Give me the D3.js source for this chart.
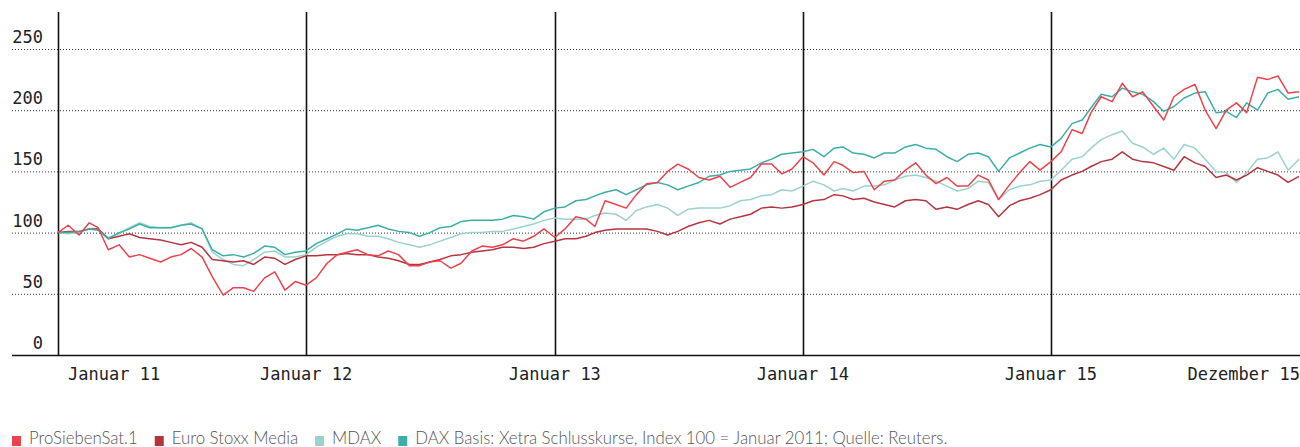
<!DOCTYPE html>
<html lang="de">
<head>
    <meta charset="UTF-8">
    <script src="https://d3js.org/d3.v7.min.js"></script>
    <style>
        body { margin: 0; background: #fff; }
        .tick-label { font-family: "DejaVu Sans Mono", monospace; font-size: 17px; fill: #222; }
        .legend-text { font-family: Lato, "Open Sans", sans-serif; font-weight: 300; font-size: 16.8px; fill: #555; }
        .grid { stroke: #333; stroke-width: 1; stroke-dasharray: 1,2; }
        .series { fill: none; stroke-width: 1.5; stroke-linejoin: round; }
    </style>
</head>
<body>
<div id="chart"></div>
<script>
    // half-monthly readings, Jan 2011 .. Dec 2015 (Index 100 = Januar 2011)
    const proSieben = [
        100,106,98,108,104,86,90,80,82,79,76,80,82,87,80,64,49,55,55,52,63,68,53,60,57,
        63,75,82,84,86,82,81,85,82,73,73,76,77,71,75,85,89,88,90,95,93,97,103,96,
        103,113,111,105,126,123,120,131,140,141,150,156,152,145,143,146,137,141,145,156,156,148,152,162,
        157,147,158,155,149,150,135,142,143,151,157,147,140,145,138,138,147,143,127,139,149,158,151,158,
        166,184,181,198,211,207,222,211,215,203,192,211,217,221,200,185,200,206,198,227,225,228,214,215
    ];
    const euroStoxx = [
        100,101,101,103,103,95,97,99,96,95,94,92,90,92,88,78,77,76,77,74,80,79,74,78,81,
        81,82,82,83,82,82,80,79,77,74,74,76,78,81,82,84,85,86,88,88,87,88,91,93,
        95,95,97,100,102,103,103,103,103,101,98,101,105,108,110,107,111,113,115,120,121,120,121,123,
        126,127,131,130,127,128,125,123,121,126,127,126,119,121,119,123,126,123,113,122,126,128,131,135,
        143,147,150,154,158,160,166,160,158,157,154,151,162,157,154,145,147,143,147,153,150,147,141,146
    ];
    const mdax = [
        100,99,100,103,103,96,99,104,108,105,104,104,106,108,103,84,78,74,73,78,84,85,80,80,82,
        88,93,97,99,99,97,97,95,92,90,88,90,93,96,99,100,100,101,101,103,105,107,110,112,
        111,111,111,114,116,115,110,118,121,123,120,114,119,120,120,120,122,126,127,130,131,135,134,138,
        142,139,134,136,134,138,138,139,143,146,147,145,142,138,134,136,142,141,127,135,138,139,142,143,
        151,160,162,169,176,180,183,173,170,164,169,160,172,169,160,150,149,141,149,160,161,166,151,160
    ];
    const dax = [
        100,100,101,103,102,95,100,103,107,104,104,104,106,107,103,86,81,82,80,83,89,88,82,84,85,
        91,95,99,103,102,104,106,103,101,100,97,100,104,105,109,110,110,110,111,114,113,111,117,120,
        121,126,127,130,133,135,131,135,139,141,139,135,138,141,146,147,150,151,152,157,160,164,165,166,
        168,162,169,170,165,164,161,165,165,170,172,169,168,162,158,164,165,162,150,161,165,169,172,170,
        177,189,192,202,213,211,218,215,213,207,199,203,210,214,215,198,199,194,206,200,214,217,209,211
    ];

    const dates = d3.range(proSieben.length).map(k => new Date(2011, Math.floor(k / 2), k % 2 ? 16 : 1));

    const yTicks = [0, 50, 100, 150, 200, 250];
    const yearLines = [2011, 2012, 2013, 2014, 2015];
    const xLabels = ["Januar 11", "Januar 12", "Januar 13", "Januar 14", "Januar 15", "Dezember 15"];

    const seriesNames = ["ProSiebenSat.1", "Euro Stoxx Media", "MDAX", "DAX"];
    const seriesColors = ["#ea434c", "#b5353f", "#9bd3cb", "#3daea6"];
    const seriesValues = [proSieben, euroStoxx, mdax, dax];
    const drawOrder = [2, 1, 3, 0];
    const legendNote = "Basis: Xetra Schlusskurse, Index 100 = Januar 2011; Quelle: Reuters.";

    const width = 1300, height = 447;
    const gridLeft = 12, plotLeft = 58, plotRight = 1299, plotTop = 12, plotBottom = 355;

    const svg = d3.select("#chart").append("svg")
        .attr("width", width)
        .attr("height", height);

    const x = d3.scaleTime()
        .domain([new Date(2011, 0, 1), new Date(2016, 0, 1)])
        .range([plotLeft, plotRight]);

    const y = d3.scaleLinear()
        .domain([0, 250])
        .range([plotBottom, 49]);

    // dotted grid + y labels
    svg.append("g").selectAll("line")
        .data(yTicks.filter(d => d > 0))
        .enter().append("line")
        .attr("class", "grid")
        .attr("x1", gridLeft).attr("x2", width)
        .attr("y1", d => y(d) + 0.5).attr("y2", d => y(d) + 0.5);

    svg.append("g").selectAll("text")
        .data(yTicks)
        .enter().append("text")
        .attr("class", "tick-label")
        .attr("x", 43)
        .attr("y", d => y(d) - 6)
        .attr("text-anchor", "end")
        .text(d => d);

    // year separators
    svg.append("g").selectAll("line")
        .data(yearLines)
        .enter().append("line")
        .attr("x1", d => Math.round(x(new Date(d, 0, 1))) + 0.5)
        .attr("x2", d => Math.round(x(new Date(d, 0, 1))) + 0.5)
        .attr("y1", plotTop).attr("y2", plotBottom)
        .attr("stroke", "#111")
        .attr("stroke-width", 1.6);

    // lines
    const line = d3.line()
        .x((d, i) => x(dates[i]))
        .y(d => y(d));

    svg.append("g").selectAll("path")
        .data(drawOrder)
        .enter().append("path")
        .attr("class", "series")
        .attr("stroke", i => seriesColors[i])
        .attr("d", i => line(seriesValues[i]));

    // baseline
    svg.append("line")
        .attr("x1", gridLeft).attr("x2", width)
        .attr("y1", plotBottom + 0.5).attr("y2", plotBottom + 0.5)
        .attr("stroke", "#111")
        .attr("stroke-width", 1.4);

    // x labels
    const labelPos = yearLines.map(d => x(new Date(d, 0, 1))).concat([width]);
    svg.append("g").selectAll("text")
        .data(xLabels)
        .enter().append("text")
        .attr("class", "tick-label")
        .attr("x", (d, i) => i === 0 ? 68 : labelPos[i])
        .attr("y", 380)
        .attr("text-anchor", (d, i) => i === 0 ? "start" : (i === xLabels.length - 1 ? "end" : "middle"))
        .text(d => d);

    // legend
    const legend = svg.append("g");
    let lx = 12;
    seriesNames.forEach((name, i) => {
        legend.append("rect")
            .attr("x", lx).attr("y", 436)
            .attr("width", 9).attr("height", 10)
            .attr("fill", seriesColors[i]);
        const t = legend.append("text")
            .attr("class", "legend-text")
            .attr("x", lx + 17)
            .attr("y", 444)
            .text(i === seriesNames.length - 1 ? name + " " + legendNote : name);
        lx += 17 + t.node().getComputedTextLength() + 17;
    });
</script>
</body>
</html>
